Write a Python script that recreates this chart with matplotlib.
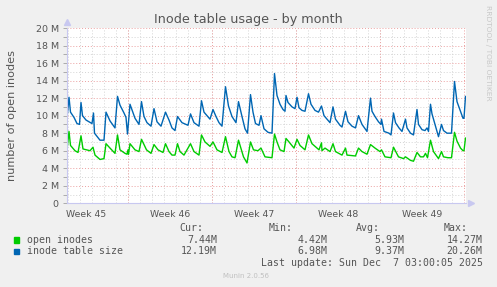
import matplotlib
matplotlib.use("Agg")
import matplotlib.pyplot as plt

# hours since the start of the graph (2 h steps, munin monthly RRA)
green_hours = [0, 4, 7, 16, 22, 28, 32, 46, 52, 56, 66, 74, 78, 86, 96, 101, 106, 116, 120, 122, 123,
               126, 136, 144, 149, 159, 168, 174, 182, 192, 197, 204, 210, 216, 221, 226, 234, 247,
               254, 264, 269, 276, 286, 292, 300, 310, 317, 324, 330, 336, 343, 353, 360, 367, 373,
               382, 388, 396, 410, 415, 420, 426, 434, 438, 444, 454, 460, 466, 476, 483, 490, 500,
               504, 509, 510, 516, 526, 532, 537, 550, 557, 560, 577, 583, 590, 600, 607, 616, 626,
               629, 636, 648, 653, 663, 673, 677, 687, 693, 700, 707, 713, 717, 721, 727, 733, 743,
               749, 753, 762, 769, 775, 780, 787, 792, 794, 797]
open_inodes = [6.1, 8.2, 6.6, 6.0, 5.8, 7.7, 6.2, 6.0, 6.4, 5.5, 5.0, 5.1, 6.8, 6.3, 5.7, 7.8, 6.1, 5.7,
               5.6, 6.1, 5.6, 6.8, 6.1, 5.9, 7.3, 6.1, 5.7, 6.7, 6.1, 5.8, 6.8, 5.9, 5.5, 5.5, 6.8,
               5.9, 5.5, 6.8, 5.9, 5.5, 7.8, 7.0, 6.5, 7.0, 6.1, 5.8, 7.6, 5.9, 5.3, 5.2, 7.2, 5.3,
               4.6, 7.0, 6.1, 6.0, 6.3, 5.3, 5.2, 7.9, 7.0, 6.1, 5.9, 7.4, 7.0, 6.3, 7.3, 6.6, 6.1,
               7.8, 6.8, 6.3, 6.1, 6.9, 6.0, 6.3, 5.9, 6.8, 5.9, 5.5, 6.3, 5.5, 5.4, 6.3, 5.9, 5.6,
               6.7, 6.3, 5.9, 6.1, 5.3, 5.2, 6.4, 5.3, 5.1, 5.3, 4.9, 4.8, 5.8, 5.3, 5.3, 5.7, 5.2,
               7.2, 5.9, 5.1, 5.9, 5.3, 5.2, 5.2, 8.1, 7.1, 6.3, 6.0, 6.0, 7.44]

blue_hours = [0, 4, 7, 14, 20, 25, 28, 31, 38, 50, 53, 55, 66, 74, 78, 86, 96, 101, 106, 114, 118, 121,
              126, 136, 144, 149, 154, 160, 168, 174, 180, 188, 197, 204, 210, 216, 221, 230, 242,
              247, 254, 264, 269, 274, 280, 286, 292, 298, 304, 310, 317, 323, 330, 338, 343, 350,
              356, 361, 367, 372, 377, 384, 388, 394, 402, 410, 415, 420, 426, 432, 436, 438, 442,
              450, 456, 460, 464, 470, 476, 483, 488, 496, 503, 509, 514, 520, 526, 532, 537, 546,
              550, 557, 562, 570, 577, 583, 590, 600, 607, 610, 616, 623, 628, 629, 634, 644, 648,
              653, 657, 664, 670, 677, 680, 687, 693, 700, 703, 710, 716, 720, 723, 727, 730, 737,
              743, 749, 753, 760, 769, 775, 780, 787, 792, 794, 797]
table_size = [9.7, 12.1, 10.4, 9.8, 9.1, 9.0, 11.5, 10.0, 9.5, 9.1, 10.3, 8.0, 7.2, 7.2, 10.4, 9.4, 8.6,
              12.2, 11.2, 10.3, 9.8, 7.9, 11.3, 9.7, 9.0, 11.6, 9.9, 9.2, 8.8, 10.8, 9.3, 8.8, 10.4,
              9.5, 8.6, 8.3, 9.9, 9.2, 8.9, 10.2, 9.2, 8.8, 11.7, 10.4, 10.0, 9.6, 10.7, 9.9, 9.2,
              8.8, 13.3, 11.1, 9.9, 9.2, 11.6, 9.9, 8.5, 8.0, 12.4, 10.4, 9.1, 8.9, 10.0, 8.5, 8.1,
              8.0, 14.8, 12.3, 11.3, 10.7, 10.5, 12.3, 11.5, 11.0, 10.8, 12.1, 10.9, 10.6, 10.5,
              12.5, 11.3, 10.6, 10.4, 11.1, 10.0, 9.6, 9.2, 11.0, 9.6, 8.9, 8.7, 10.5, 9.3, 8.8,
              8.6, 10.0, 9.0, 8.2, 12.0, 10.5, 9.9, 9.3, 9.0, 9.6, 8.2, 8.0, 7.8, 10.3, 9.2, 8.6,
              8.2, 9.6, 8.6, 8.0, 7.8, 10.7, 9.0, 8.4, 8.3, 8.6, 8.2, 11.3, 10.2, 8.8, 7.6, 9.0,
              8.3, 8.0, 8.0, 13.9, 11.6, 10.5, 9.7, 9.7, 12.19]

week_labels = ["Week 45", "Week 46", "Week 47", "Week 48", "Week 49"]
week_starts = [122, 290, 458, 626, 794]
day_lines = [2, 26, 50, 74, 98] + [122 + 24 * i for i in range(28)]
y_major = list(range(0, 21, 2))
y_minor = list(range(1, 20, 2))

legend_names = ["open inodes", "inode table size"]
legend_colors = ["#00CC00", "#0066B3"]
cur_vals = ["7.44M", "12.19M"]
min_vals = ["4.42M", "6.98M"]
avg_vals = ["5.93M", "9.37M"]
max_vals = ["14.27M", "20.26M"]

W, H = 497, 287
BG = "#F0F0F0"
TXT = "#555555"


def fx(x):
    return x / W


def fy(y):
    return 1 - y / H


fig = plt.figure(figsize=(W / 100, H / 100), dpi=100, facecolor=BG)
ax = fig.add_axes([fx(67), fy(203.3), fx(466) - fx(67), fy(28) - fy(203.3)])
ax.set_facecolor("white")

ax.set_xlim(0, 798)
ax.set_ylim(0, 20)

dots = (0, (1, 2))
for d in day_lines:
    ax.axvline(d, color="#D4D4D4", lw=0.7, ls=dots, zorder=1)
for y in y_minor:
    ax.axhline(y, color="#D4D4D4", lw=0.7, ls=dots, zorder=1)
for w in week_starts:
    ax.axvline(w, color="#EBA0A0", lw=0.7, ls=dots, zorder=1.5)
for y in y_major[1:]:
    ax.axhline(y, color="#EBA0A0", lw=0.7, ls=dots, zorder=1.5)

ax.plot(green_hours, open_inodes, color=legend_colors[0], lw=1.0, zorder=3)
ax.plot(blue_hours, table_size, color=legend_colors[1], lw=1.0, zorder=3)

ax.set_yticks(y_major, [f"{v} M" if v else "0" for v in y_major])
ax.set_yticks(y_minor, minor=True)
ax.set_xticks([s - 84 for s in week_starts], week_labels)
ax.tick_params(axis="y", which="both", length=3, width=0.6, color="#A0A0A0",
               labelsize=6.8, labelcolor=TXT, pad=3)
ax.tick_params(axis="x", length=0, labelsize=6.7, labelcolor=TXT, pad=5)

for s in ["top", "right"]:
    ax.spines[s].set_visible(False)
for s in ["left", "bottom"]:
    ax.spines[s].set_color("#C8C8F0")
    ax.spines[s].set_linewidth(0.8)
    ax.spines[s].set_zorder(4)
ax.plot([0], [1.035], marker="^", ms=4, color="#C8C8F0", transform=ax.transAxes, clip_on=False)
ax.plot([1.012], [0], marker=">", ms=4, color="#C8C8F0", transform=ax.transAxes, clip_on=False)

fig.text(fx(248), fy(20), "Inode table usage - by month", ha="center", va="center",
         fontsize=9.2, color=TXT)
fig.text(fx(12), fy(115.5), "number of open inodes", rotation=90, ha="center", va="center",
         fontsize=8.1, color=TXT)
fig.text(fx(488), fy(53), "RRDTOOL / TOBI OETIKER", rotation=270, ha="center", va="center",
         fontsize=5.4, color="#C8C8C8")

mono = dict(family="DejaVu Sans Mono", fontsize=7.1, color=TXT, va="center")
fig.text(fx(203), fy(227.7), "Cur:", ha="right", **mono)
fig.text(fx(292.7), fy(227.7), "Min:", ha="right", **mono)
fig.text(fx(380), fy(227.7), "Avg:", ha="right", **mono)
fig.text(fx(468), fy(227.7), "Max:", ha="right", **mono)
for i, row_y in enumerate([240, 251.5]):
    fig.patches.append(plt.Rectangle((fx(14), fy(row_y + 2.7)), fx(5.3), fy(0) - fy(5.3),
                                     transform=fig.transFigure, color=legend_colors[i]))
    fig.text(fx(26.7), fy(row_y), legend_names[i], ha="left", **mono)
    fig.text(fx(217), fy(row_y), cur_vals[i], ha="right", **mono)
    fig.text(fx(327.7), fy(row_y), min_vals[i], ha="right", **mono)
    fig.text(fx(404), fy(row_y), avg_vals[i], ha="right", **mono)
    fig.text(fx(482.7), fy(row_y), max_vals[i], ha="right", **mono)
fig.text(fx(482.7), fy(263.3), "Last update: Sun Dec  7 03:00:05 2025", ha="right", **mono)
fig.text(fx(222.7), fy(276), "Munin 2.0.56", ha="left", va="center", fontsize=5.0, color="#C0C0C0")

fig.savefig("out.png", dpi=100, facecolor=BG)
